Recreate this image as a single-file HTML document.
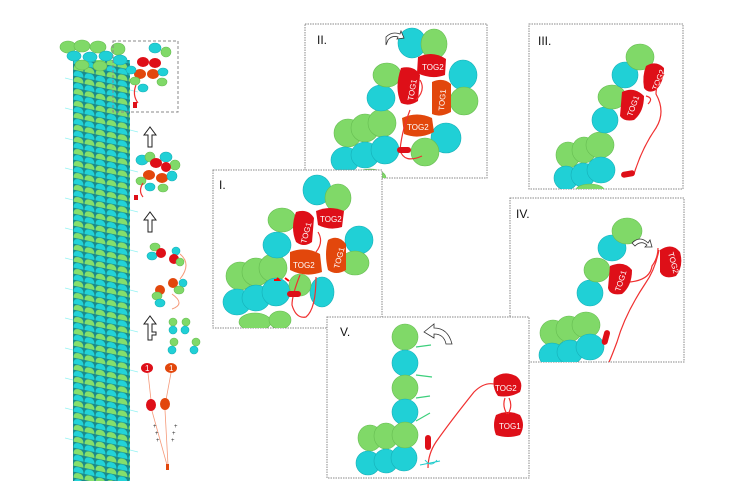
<!DOCTYPE html>
<html><head><meta charset="utf-8"><style>
html,body{margin:0;padding:0;background:#fff;}
svg{display:block;font-family:"Liberation Sans",sans-serif;}
.g{fill:#80d968;stroke:#66bd52;stroke-width:.6}
.c{fill:#20d0d6;stroke:#16b0b8;stroke-width:.6}
.r{fill:#de0f18}
.o{fill:#e2470c}
.t{fill:#fff;font-size:8px;}
.lab{font-size:12px;fill:#111;}
.box{fill:#fff;stroke:#888;stroke-width:1;stroke-dasharray:1.5 1}
.ln{fill:none;stroke:#f03030;stroke-width:1.2}
</style></head><body>
<svg width="740" height="481" viewBox="0 0 740 481">
<defs>
<pattern id="mt" width="11" height="12" patternUnits="userSpaceOnUse" x="73" y="0" patternTransform="skewY(12)">
<rect width="11" height="12" fill="#1a8a8a"/>
<path d="M0.5 6 Q0.5 0.5 5.5 0.5 Q10.5 0.5 10.5 6 Z" fill="#84df6c"/>
<path d="M0.5 12 Q0.5 6.5 5.5 6.5 Q10.5 6.5 10.5 12 Z" fill="#22d3d8"/>
</pattern>
<clipPath id="cI"><rect x="213" y="170" width="169" height="158"/></clipPath>
<clipPath id="cII"><rect x="305" y="24" width="182" height="154"/></clipPath>
<clipPath id="cIII"><rect x="529" y="24" width="154" height="165"/></clipPath>
<clipPath id="cIV"><rect x="510" y="198" width="174" height="164"/></clipPath>
<clipPath id="cV"><rect x="327" y="317" width="202" height="161"/></clipPath>
</defs>

<!-- microtubule -->
<path d="M73 60 L130 60 L130 481 L73 481 Z" fill="url(#mt)"/>
<g stroke="#6ee" stroke-width=".7" opacity=".7">
<path d="M73 80 l-8 -2 M73 110 l-8 -2 M73 140 l-8 -2 M73 170 l-8-2 M73 200 l-8-2 M73 230 l-8-2 M73 260 l-8-2 M73 290 l-8-2 M73 320 l-8-2 M73 350 l-8-2 M73 380 l-8-2 M73 410 l-8-2 M73 440 l-8-2 M130 90 l8 2 M130 130 l8 2 M130 170 l8 2 M130 210 l8 2 M130 250 l8 2 M130 290 l8 2 M130 330 l8 2 M130 370 l8 2 M130 410 l8 2 M130 450 l8 2"/>
</g>
<ellipse class="g" cx="68" cy="47" rx="8" ry="6"/><ellipse class="g" cx="82" cy="46" rx="8" ry="6"/><ellipse class="g" cx="98" cy="47" rx="8" ry="6"/>
<ellipse class="c" cx="74" cy="56" rx="7" ry="5"/><ellipse class="c" cx="90" cy="57" rx="7" ry="5"/><ellipse class="c" cx="106" cy="56" rx="7" ry="5"/>
<ellipse class="g" cx="118" cy="49" rx="7" ry="6"/><ellipse class="c" cx="120" cy="60" rx="7" ry="5"/>
<ellipse class="g" cx="82" cy="65" rx="7" ry="5"/><ellipse class="g" cx="100" cy="66" rx="7" ry="5"/>

<!-- dashed box -->
<rect x="113" y="41" width="65" height="71" fill="none" stroke="#888" stroke-dasharray="3 2"/>
<ellipse class="c" cx="155" cy="48" rx="6" ry="5"/><ellipse class="g" cx="166" cy="52" rx="5" ry="5"/>
<ellipse class="r" cx="143" cy="62" rx="6" ry="5"/><ellipse class="r" cx="155" cy="63" rx="6" ry="5"/>
<ellipse class="o" cx="140" cy="74" rx="6" ry="5"/><ellipse class="o" cx="153" cy="74" rx="6" ry="5"/>
<ellipse class="c" cx="163" cy="72" rx="5" ry="4"/><ellipse class="g" cx="162" cy="82" rx="5" ry="4"/>
<ellipse class="g" cx="135" cy="81" rx="5" ry="4"/><ellipse class="c" cx="143" cy="88" rx="5" ry="4"/><ellipse class="c" cx="131" cy="70" rx="5" ry="4"/>
<path class="ln" d="M136 85 q-4 10 2 18"/><rect x="133" y="102" width="4" height="6" class="r"/>

<!-- arrows -->
<g fill="#fff" stroke="#222" stroke-width="1">
<path d="M148 147 v-12 h-4 l6 -8 l6 8 h-4 v12 z"/>
<path d="M148 232 v-12 h-4 l6 -8 l6 8 h-4 v12 z"/>
<path d="M148 340 v-16 h-4 l6 -8 l6 8 h-4 v8 h4 v3 h-4 v5 z"/>
</g>
<g>
<ellipse class="c" cx="142" cy="160" rx="6" ry="5"/><ellipse class="g" cx="150" cy="157" rx="5" ry="5"/><ellipse class="c" cx="166" cy="157" rx="6" ry="5"/><ellipse class="g" cx="175" cy="165" rx="5" ry="5"/>
<ellipse class="r" cx="156" cy="163" rx="6" ry="5"/><ellipse class="r" cx="166" cy="167" rx="5" ry="5"/>
<ellipse class="o" cx="149" cy="175" rx="6" ry="5"/><ellipse class="o" cx="162" cy="178" rx="6" ry="5"/>
<ellipse class="c" cx="172" cy="176" rx="5" ry="5"/><ellipse class="g" cx="141" cy="181" rx="5" ry="4"/><ellipse class="c" cx="150" cy="187" rx="5" ry="4"/><ellipse class="g" cx="163" cy="188" rx="5" ry="4"/>
<path class="ln" d="M143 183 q-5 8 0 14"/><rect x="134" y="195" width="4" height="5" class="r"/>
</g>
<g>
<ellipse class="g" cx="155" cy="247" rx="5" ry="4"/><ellipse class="c" cx="152" cy="256" rx="5" ry="4"/><ellipse class="r" cx="161" cy="253" rx="5" ry="5"/>
<ellipse class="c" cx="176" cy="251" rx="4" ry="4"/><ellipse class="r" cx="174" cy="259" rx="5" ry="5"/><ellipse class="g" cx="180" cy="262" rx="4" ry="4"/>
<path d="M180 254 q12 10 0 25 M172 294 q14 10 0 15" fill="none" stroke="#f59a7a" stroke-width="1"/>
<ellipse class="o" cx="160" cy="290" rx="5" ry="5"/><ellipse class="g" cx="157" cy="296" rx="5" ry="4"/><ellipse class="c" cx="160" cy="303" rx="5" ry="4"/>
<ellipse class="o" cx="173" cy="283" rx="5" ry="5"/><ellipse class="c" cx="183" cy="283" rx="4" ry="4"/><ellipse class="g" cx="179" cy="290" rx="5" ry="4"/>
</g>
<g>
<ellipse class="g" cx="173" cy="322" rx="4" ry="4"/><ellipse class="c" cx="173" cy="330" rx="4" ry="4"/>
<ellipse class="g" cx="186" cy="322" rx="4" ry="4"/><ellipse class="c" cx="185" cy="330" rx="4" ry="4"/>
<ellipse class="g" cx="174" cy="342" rx="4" ry="4"/><ellipse class="c" cx="172" cy="350" rx="4" ry="4"/>
<ellipse class="g" cx="196" cy="342" rx="4" ry="4"/><ellipse class="c" cx="194" cy="350" rx="4" ry="4"/>
</g>
<g>
<ellipse class="r" cx="147" cy="368" rx="6" ry="5"/><ellipse class="o" cx="171" cy="368" rx="6" ry="5"/>
<text class="t" x="145" y="371" font-size="6">1</text><text class="t" x="169" y="371" font-size="6">1</text>
<path d="M148 373 L151 400 M171 373 L166 400" stroke="#f59a7a" stroke-width=".8" fill="none"/>
<ellipse class="r" cx="151" cy="405" rx="5" ry="6"/><ellipse class="o" cx="165" cy="404" rx="5" ry="6"/>
<path d="M152 411 L167 465 M165 410 L168 465" stroke="#f59a7a" stroke-width=".8" fill="none"/>
<rect x="166" y="464" width="3" height="6" class="o"/>
<g fill="#333" font-size="6"><text x="153" y="428">+</text><text x="155" y="435">+</text><text x="156" y="442">+</text><text x="174" y="428">+</text><text x="172" y="435">+</text><text x="171" y="442">+</text></g>
</g>

<!-- Panel II -->
<rect class="box" x="305" y="24" width="182" height="154"/>
<g clip-path="url(#cII)">
<ellipse class="g" cx="348" cy="133" rx="14" ry="14"/><ellipse class="g" cx="365" cy="128" rx="14" ry="14"/><ellipse class="g" cx="382" cy="123" rx="14" ry="14"/>
<ellipse class="c" cx="345" cy="160" rx="14" ry="13"/><ellipse class="c" cx="365" cy="155" rx="14" ry="13"/><ellipse class="c" cx="385" cy="150" rx="14" ry="14"/>
<ellipse class="g" cx="370" cy="178" rx="16" ry="9"/>
<ellipse class="c" cx="381" cy="98" rx="14" ry="13"/>
<ellipse class="g" cx="387" cy="75" rx="14" ry="12"/>
<ellipse class="c" cx="412" cy="43" rx="14" ry="15"/><ellipse class="g" cx="434" cy="44" rx="13" ry="15"/>
<ellipse class="c" cx="463" cy="75" rx="14" ry="15"/><ellipse class="g" cx="464" cy="101" rx="14" ry="14"/>
<ellipse class="c" cx="446" cy="138" rx="15" ry="15"/><ellipse class="g" cx="425" cy="152" rx="14" ry="14"/>
<path class="r" d="M418 57 q15 -7 28 2 l-1 16 q-13 5 -28 -2 z"/><text class="t" x="422" y="70">TOG2</text>
<path class="r" d="M401 68 q13 -3 19 7 l-2 26 q-9 6 -17 2 q-7 -15 0 -35 z"/><text class="t" transform="translate(413 101) rotate(-80)">TOG1</text>
<path class="o" d="M432 82 q11 -5 19 2 l0 28 q-11 6 -19 2 z"/><text class="t" transform="translate(444 111) rotate(-85)">TOG1</text>
<path class="o" d="M402 118 q15 -7 30 0 l2 14 q-15 8 -30 2 z"/><text class="t" x="407" y="130">TOG2</text>
<path class="ln" d="M410 110 q-8 20 -10 40 q4 14 22 6 M420 80 q6 10 -4 20"/>
<rect x="397" y="147" width="14" height="6" rx="3" class="r"/>
</g>
<text class="lab" x="317" y="44">II.</text>
<path d="M386 37 q6 -6 14 -3 l1 -3 l3 7 l-7 1 l1 -2 q-6 -2 -10 3 l-2 5 z" fill="#fff" stroke="#333" stroke-width=".8"/>

<!-- Panel III -->
<rect class="box" x="529" y="24" width="154" height="165"/>
<g clip-path="url(#cIII)">
<ellipse class="g" cx="568" cy="155" rx="12" ry="13"/><ellipse class="g" cx="584" cy="150" rx="12" ry="13"/><ellipse class="g" cx="600" cy="145" rx="14" ry="13"/>
<ellipse class="c" cx="566" cy="178" rx="12" ry="12"/><ellipse class="c" cx="583" cy="175" rx="12" ry="12"/><ellipse class="c" cx="601" cy="170" rx="14" ry="13"/>
<ellipse class="g" cx="590" cy="190" rx="14" ry="6"/>
<ellipse class="c" cx="605" cy="120" rx="13" ry="13"/><ellipse class="g" cx="612" cy="97" rx="14" ry="12"/>
<ellipse class="c" cx="625" cy="75" rx="13" ry="13"/><ellipse class="g" cx="640" cy="57" rx="14" ry="13"/>
<path class="r" d="M622 92 q12 -6 22 4 q0 16 -10 24 q-10 2 -14 -4 z"/><text class="t" transform="translate(632 117) rotate(-70)">TOG1</text>
<path class="r" d="M646 66 q10 -6 18 2 q0 14 -8 22 q-8 4 -12 -2 q-2 -12 2 -22 z"/><text class="t" transform="translate(657 91) rotate(-68)">TOG2</text>
<path class="ln" d="M664 74 q-8 10 -8 20 q10 18 0 34 q-14 20 -22 46 M646 96 q8 2 2 8"/>
<rect x="621" y="171" width="14" height="6" rx="3" class="r" transform="rotate(-10 628 174)"/>
</g>
<text class="lab" x="538" y="45">III.</text>

<!-- Panel IV -->
<rect class="box" x="510" y="198" width="174" height="164"/>
<g clip-path="url(#cIV)">
<ellipse class="g" cx="553" cy="333" rx="13" ry="13"/><ellipse class="g" cx="569" cy="329" rx="13" ry="13"/><ellipse class="g" cx="586" cy="325" rx="14" ry="13"/>
<ellipse class="c" cx="552" cy="355" rx="13" ry="12"/><ellipse class="c" cx="570" cy="352" rx="13" ry="12"/><ellipse class="c" cx="590" cy="347" rx="14" ry="13"/>
<ellipse class="c" cx="590" cy="293" rx="13" ry="13"/><ellipse class="g" cx="597" cy="270" rx="13" ry="12"/>
<ellipse class="c" cx="612" cy="248" rx="14" ry="13"/><ellipse class="g" cx="627" cy="231" rx="15" ry="13"/>
<path class="r" d="M610 266 q14 -6 22 4 q0 16 -10 24 q-12 2 -14 -6 z"/><text class="t" transform="translate(620 292) rotate(-72)">TOG1</text>
<path class="r" d="M660 250 q12 -8 20 2 q4 14 -4 24 q-12 4 -16 -4 z"/><text class="t" transform="translate(668 253) rotate(75)">TOG2</text>
<path class="ln" d="M630 282 q20 -2 22 -16 q6 -8 6 -18 M659 250 q-4 20 -14 34 q-20 30 -28 58 q-6 16 -8 20"/>
<rect x="603" y="330" width="6" height="15" rx="3" class="r" transform="rotate(15 606 337)"/>
</g>
<text class="lab" x="516" y="218">IV.</text>
<path d="M632 243 q8 -8 16 0 l2 -3 l2 7 l-7 0 l2 -2 q-6 -5 -12 1 z" fill="#fff" stroke="#333" stroke-width=".8"/>

<!-- Panel I -->
<rect class="box" x="213" y="170" width="169" height="158"/>
<g clip-path="url(#cI)">
<ellipse class="g" cx="240" cy="276" rx="14" ry="14"/><ellipse class="g" cx="256" cy="272" rx="14" ry="14"/><ellipse class="g" cx="273" cy="268" rx="14" ry="14"/>
<ellipse class="c" cx="237" cy="302" rx="14" ry="13"/><ellipse class="c" cx="256" cy="298" rx="14" ry="13"/><ellipse class="c" cx="276" cy="292" rx="14" ry="14"/>
<ellipse class="g" cx="255" cy="322" rx="16" ry="9"/><ellipse class="g" cx="280" cy="320" rx="11" ry="9"/>
<ellipse class="c" cx="277" cy="245" rx="14" ry="13"/><ellipse class="g" cx="282" cy="220" rx="14" ry="12"/>
<ellipse class="c" cx="317" cy="190" rx="14" ry="15"/><ellipse class="g" cx="338" cy="198" rx="13" ry="14"/>
<ellipse class="c" cx="359" cy="240" rx="14" ry="14"/><ellipse class="g" cx="355" cy="263" rx="14" ry="12"/>
<ellipse class="c" cx="322" cy="292" rx="12" ry="15"/><ellipse class="g" cx="300" cy="285" rx="11" ry="11"/>
<path class="r" d="M316 211 q14 -6 28 0 l-2 16 q-12 4 -24 -2 z"/><text class="t" x="320" y="222">TOG2</text>
<path class="r" d="M296 212 q12 -4 18 6 l-2 24 q-8 6 -16 0 q-6 -14 0 -30 z"/><text class="t" transform="translate(306 244) rotate(-75)">TOG1</text>
<path class="o" d="M328 240 q10 -6 18 4 l0 26 q-10 6 -18 0 q-4 -16 0 -30 z"/><text class="t" transform="translate(339 269) rotate(-75)">TOG1</text>
<path class="o" d="M290 252 q16 -6 30 2 l2 18 q-16 6 -32 -2 z"/><text class="t" x="293" y="268">TOG2</text>
<path class="ln" d="M300 275 q-8 20 -8 30 q4 14 14 12 q10 -8 10 -40 M318 232 q6 10 -2 20"/>
<rect x="287" y="291" width="14" height="6" rx="3" class="r"/>
<path d="M274 280 h5 l-2 -2 M289 281 l-4 -3" stroke="#f00" stroke-width="2" fill="none"/>
</g>
<text class="lab" x="219" y="189">I.</text>

<!-- Panel V -->
<rect class="box" x="327" y="317" width="202" height="161"/>
<g clip-path="url(#cV)">
<ellipse class="g" cx="370" cy="438" rx="12" ry="13"/><ellipse class="g" cx="386" cy="436" rx="12" ry="13"/>
<ellipse class="c" cx="368" cy="463" rx="12" ry="12"/><ellipse class="c" cx="386" cy="461" rx="12" ry="12"/><ellipse class="c" cx="404" cy="458" rx="13" ry="13"/>
<ellipse class="g" cx="405" cy="337" rx="13" ry="13"/><ellipse class="c" cx="405" cy="363" rx="13" ry="13"/>
<ellipse class="g" cx="405" cy="388" rx="13" ry="13"/><ellipse class="c" cx="405" cy="412" rx="13" ry="13"/><ellipse class="g" cx="405" cy="435" rx="13" ry="13"/>
<path d="M416 347 l15 -2 M416 375 l16 2 M416 398 l14 -2 M416 421 l14 -8" stroke-width="1.2" fill="none" stroke="#3ccf7c"/>
<path class="r" d="M494 378 q10 -8 22 -2 q8 6 4 16 q-10 6 -22 4 q-6 -8 -4 -18 z"/><text class="t" x="495" y="391">TOG2</text>
<path class="r" d="M496 415 q12 -6 24 0 q6 10 0 20 q-12 4 -24 0 q-4 -10 0 -20 z"/><text class="t" x="499" y="429">TOG1</text>
<path class="ln" d="M494 384 q-10 -2 -20 8 q-24 30 -38 50 q-8 12 -8 26 M505 398 q-3 8 2 16 M509 398 q4 8 -1 16"/>
<rect x="425" y="435" width="6" height="15" rx="3" class="r"/>
<path d="M425 460 q6 8 12 0 M420 465 l20 -4" stroke="#2cc" stroke-width="1" fill="none"/>
</g>
<text class="lab" x="340" y="336">V.</text>
<path d="M424 332 l10 -8 l0 4 q14 0 18 16 l-6 0 q-2 -10 -12 -10 l0 4 z" fill="#fff" stroke="#333" stroke-width=".8"/>
</svg>
</body></html>
